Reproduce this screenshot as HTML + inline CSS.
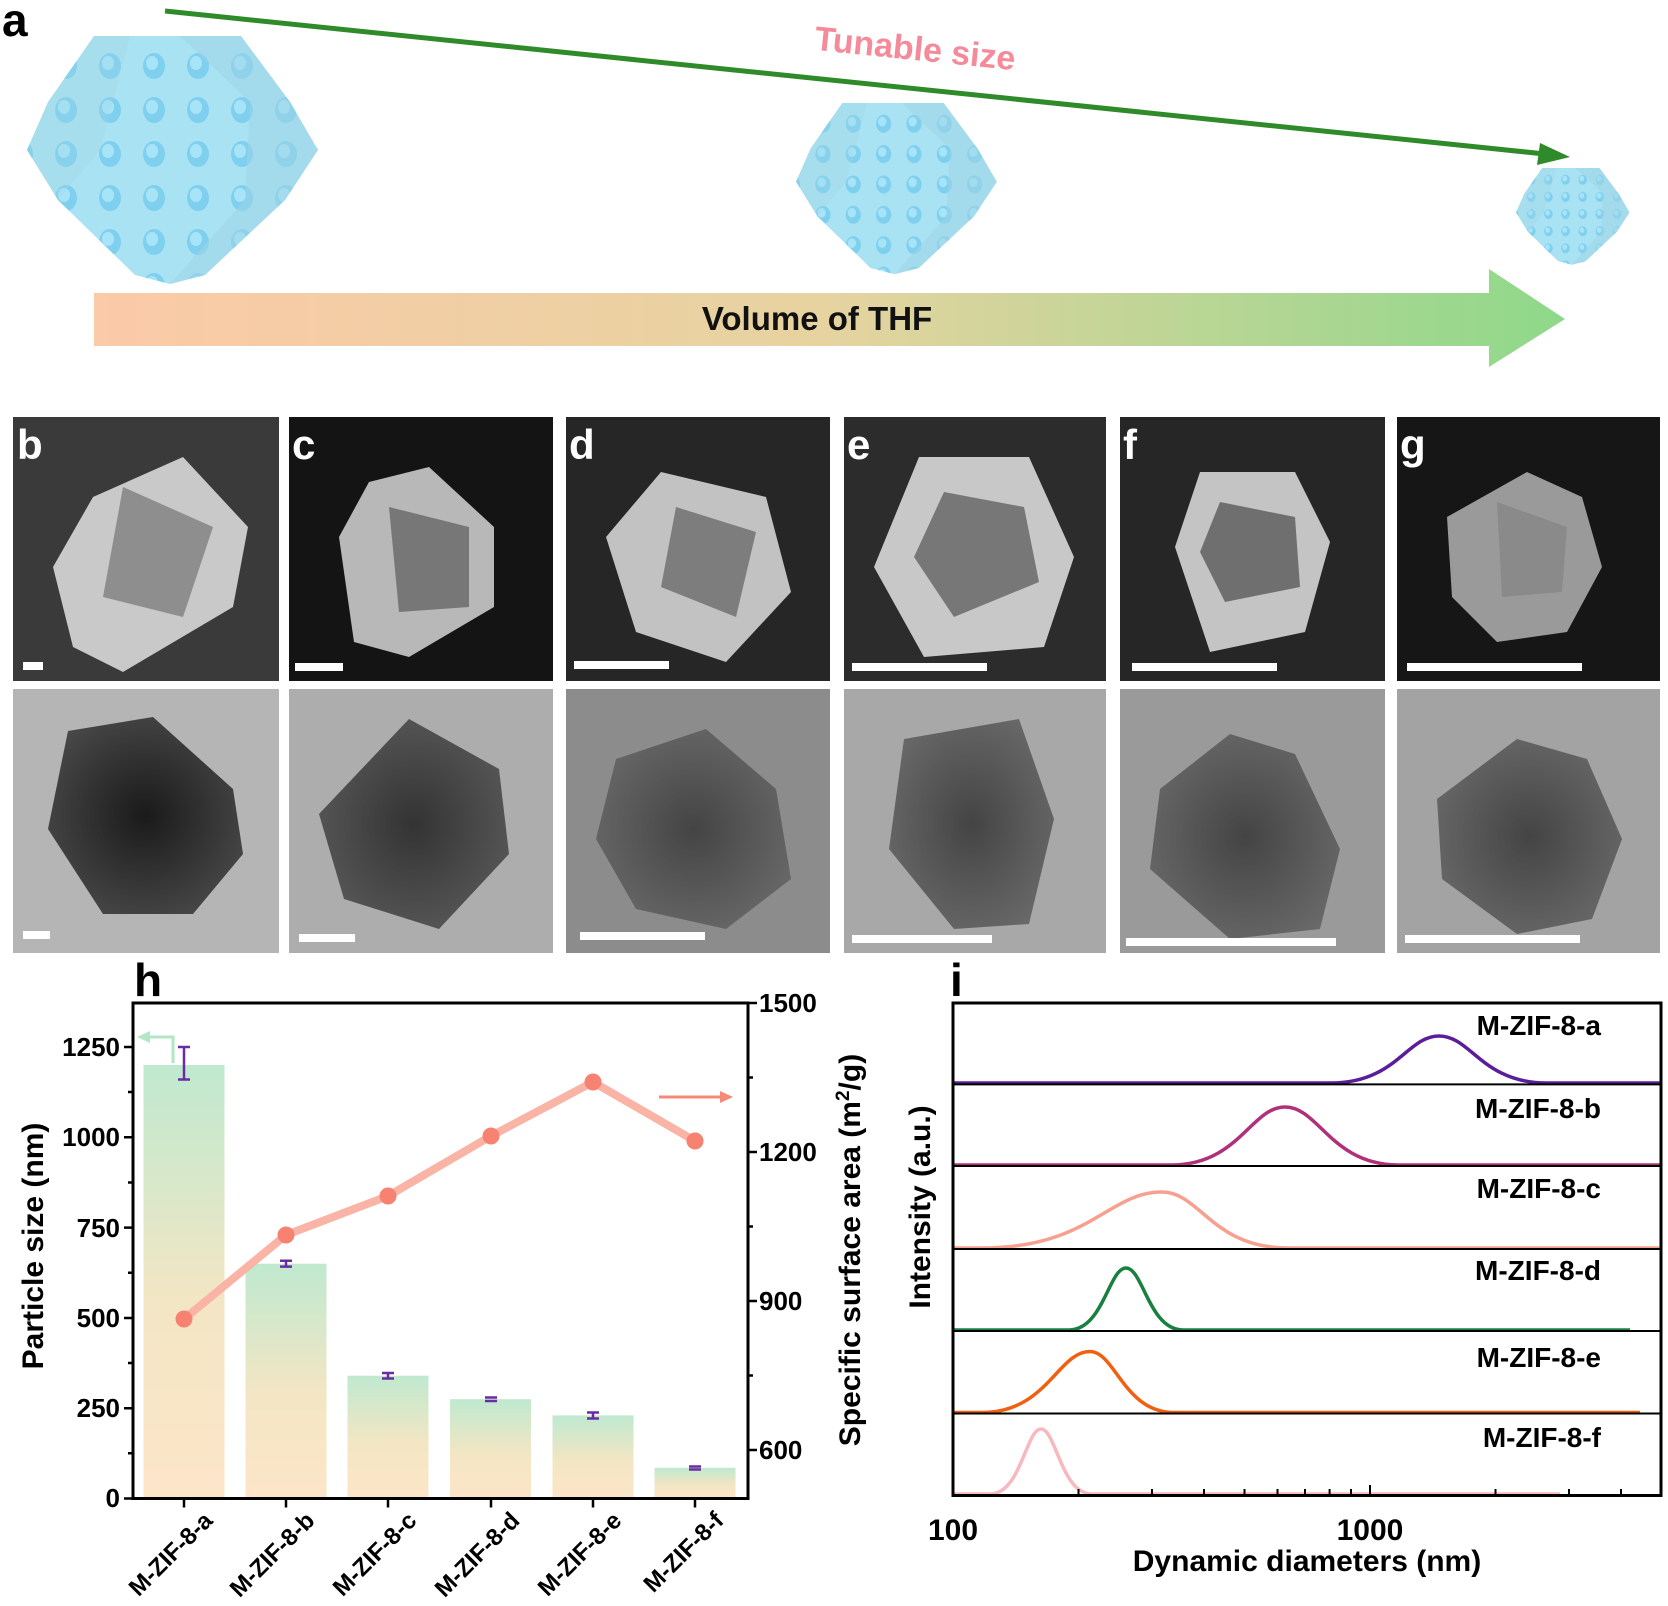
<!DOCTYPE html>
<html><head><meta charset="utf-8"><style>
html,body{margin:0;padding:0;background:#fff;width:1668px;height:1606px;overflow:hidden}
svg{display:block}
text{font-family:"Liberation Sans",Arial,sans-serif;font-weight:bold}
</style></head><body>
<svg width="1668" height="1606" viewBox="0 0 1668 1606" xmlns="http://www.w3.org/2000/svg">
<defs>
<linearGradient id="thf" x1="0" x2="1" y1="0" y2="0">
<stop offset="0" stop-color="#fbcaa8"/><stop offset="0.5" stop-color="#e6d3a0"/><stop offset="1" stop-color="#8ed88a"/></linearGradient>
<linearGradient id="bar" x1="0" x2="0" y1="0" y2="1">
<stop offset="0" stop-color="#bfe9cf"/><stop offset="0.55" stop-color="#f3e6c4"/><stop offset="1" stop-color="#fde5c8"/></linearGradient>
<pattern id="dots" width="44" height="44" patternUnits="userSpaceOnUse">
<ellipse cx="22" cy="22" rx="11" ry="13" fill="#7fd0ef"/><ellipse cx="20" cy="19" rx="6" ry="7" fill="#a8e4f8"/></pattern>
<radialGradient id="temd" cx="0.5" cy="0.5" r="0.6"><stop offset="0" stop-color="#1a1a1a"/><stop offset="1" stop-color="#4a4a4a"/></radialGradient>
<radialGradient id="temm" cx="0.5" cy="0.5" r="0.6"><stop offset="0" stop-color="#333"/><stop offset="1" stop-color="#5a5a5a"/></radialGradient>
<radialGradient id="teml" cx="0.5" cy="0.5" r="0.6"><stop offset="0" stop-color="#444"/><stop offset="1" stop-color="#6a6a6a"/></radialGradient>
<g id="poly">
<polygon points="94,36 241,36 290,102 318,150 285,200 205,275 170,284 135,275 58,200 27,150 48,102" fill="#a9e2f3"/>
<polygon points="94,36 241,36 290,102 318,150 285,200 205,275 170,284 135,275 58,200 27,150 48,102" fill="url(#dots)"/>
<polygon points="180,36 241,36 290,102 318,150 285,200 205,275 170,284 245,200 250,102" fill="#9fd4e6" opacity="0.5"/>
<polygon points="94,36 130,36 100,150 58,200 27,150 48,102" fill="#9fd4e6" opacity="0.3"/>
</g>
</defs>

<!-- panel a -->
<text x="2" y="36" font-size="46">a</text>
<line x1="165" y1="11" x2="1545" y2="154" stroke="#2f8a2a" stroke-width="5"/>
<polygon points="1570,157 1540,143 1537,165" fill="#2f8a2a"/>
<text x="915" y="60" font-size="34" fill="#f58a9a" text-anchor="middle" transform="rotate(5.8 915 50)">Tunable size</text>

<use href="#poly"/>
<use href="#poly" transform="translate(777.4,78.2) scale(0.69)"/>
<use href="#poly" transform="translate(1505.5,154) scale(0.39)"/>

<!-- THF arrow -->
<polygon points="94,293 1489,293 1489,269 1565,319 1489,367 1489,346 94,346" fill="url(#thf)"/>
<text x="817" y="330" font-size="33" text-anchor="middle" fill="#111">Volume of THF</text>

<!-- SEM / TEM panels -->
<g transform="translate(13,417)">
<rect width="266" height="264" fill="#3a3a3a"/>
<polygon points="170,40 235,110 220,190 110,255 60,230 40,150 80,80" fill="#c9c9c9"/>
<polygon points="110,70 200,110 170,200 90,180" fill="#8e8e8e"/>
<rect x="10" y="245" width="20" height="8" fill="#fff"/>
<text x="4" y="42" font-size="42" fill="#fff">b</text>
</g>
<g transform="translate(13,689)">
<rect width="266" height="264" fill="#b5b5b5"/>
<polygon points="55,42 140,28 220,100 230,165 180,225 90,225 35,140" fill="url(#temd)"/>
<rect x="10" y="242" width="27" height="8" fill="#fff"/>
</g>
<g transform="translate(289,417)">
<rect width="264" height="264" fill="#141414"/>
<polygon points="140,50 205,110 205,190 120,240 65,225 50,120 80,65" fill="#b8b8b8"/>
<polygon points="100,90 180,110 180,190 110,195" fill="#777"/>
<rect x="6" y="246" width="48" height="8" fill="#fff"/>
<text x="3" y="42" font-size="42" fill="#fff">c</text>
</g>
<g transform="translate(289,689)">
<rect width="264" height="264" fill="#adadad"/>
<polygon points="120,30 210,80 220,165 150,240 55,210 30,125" fill="url(#temm)"/>
<rect x="10" y="245" width="56" height="8" fill="#fff"/>
</g>
<g transform="translate(566,417)">
<rect width="264" height="264" fill="#262626"/>
<polygon points="95,55 200,80 225,175 160,245 70,215 40,120" fill="#c2c2c2"/>
<polygon points="110,90 190,115 170,200 95,170" fill="#7d7d7d"/>
<rect x="8" y="244" width="95" height="8" fill="#fff"/>
<text x="3" y="42" font-size="42" fill="#fff">d</text>
</g>
<g transform="translate(566,689)">
<rect width="264" height="264" fill="#8c8c8c"/>
<polygon points="140,40 210,100 225,190 160,240 70,220 30,150 50,70" fill="url(#teml)"/>
<rect x="14" y="243" width="125" height="8" fill="#fff"/>
</g>
<g transform="translate(844,417)">
<rect width="262" height="264" fill="#2c2c2c"/>
<polygon points="75,40 185,40 230,140 200,230 80,240 30,150" fill="#c8c8c8"/>
<polygon points="100,75 180,90 195,165 110,200 70,140" fill="#777"/>
<rect x="8" y="246" width="135" height="8" fill="#fff"/>
<text x="3" y="42" font-size="42" fill="#fff">e</text>
</g>
<g transform="translate(844,689)">
<rect width="262" height="264" fill="#a8a8a8"/>
<polygon points="60,50 175,30 210,130 185,235 110,240 45,160" fill="url(#teml)"/>
<rect x="8" y="246" width="140" height="8" fill="#fff"/>
</g>
<g transform="translate(1120,417)">
<rect width="265" height="264" fill="#262626"/>
<polygon points="80,55 175,55 210,125 185,215 90,235 55,130" fill="#c4c4c4"/>
<polygon points="100,85 175,100 180,170 105,185 80,135" fill="#6f6f6f"/>
<rect x="12" y="246" width="145" height="8" fill="#fff"/>
<text x="3" y="42" font-size="42" fill="#fff">f</text>
</g>
<g transform="translate(1120,689)">
<rect width="265" height="264" fill="#9a9a9a"/>
<polygon points="110,45 175,65 220,160 200,240 110,250 30,180 40,100" fill="url(#teml)"/>
<rect x="6" y="249" width="210" height="8" fill="#fff"/>
</g>
<g transform="translate(1397,417)">
<rect width="263" height="264" fill="#161616"/>
<polygon points="130,55 185,80 205,150 170,215 100,225 55,180 50,100" fill="#9a9a9a"/>
<polygon points="100,85 170,110 165,175 105,180" fill="#8a8a8a"/>
<rect x="10" y="246" width="175" height="8" fill="#fff"/>
<text x="3" y="42" font-size="42" fill="#fff">g</text>
</g>
<g transform="translate(1397,689)">
<rect width="263" height="264" fill="#a3a3a3"/>
<polygon points="120,50 190,70 225,150 195,230 120,245 45,190 40,110" fill="url(#teml)"/>
<rect x="8" y="246" width="175" height="8" fill="#fff"/>
</g>

<!-- panel h -->
<text x="134" y="996" font-size="46">h</text>
<g>
<rect x="143.5" y="1065" width="81" height="433.5" fill="url(#bar)"/>
<rect x="245.5" y="1263.7" width="81" height="234.8" fill="url(#bar)"/>
<rect x="347.5" y="1375.7" width="81" height="122.8" fill="url(#bar)"/>
<rect x="450" y="1399.2" width="81" height="99.3" fill="url(#bar)"/>
<rect x="552.5" y="1415.4" width="81" height="83.1" fill="url(#bar)"/>
<rect x="654.5" y="1467.8" width="81" height="30.7" fill="url(#bar)"/>
</g>
<g stroke="#6a2ca0" stroke-width="2.5" fill="none">
<path d="M184,1047V1079.5M178,1047H190M178,1079.5H190"/>
<path d="M280,1260.8H292M280,1266.6H292M286,1260.8V1266.6"/>
<path d="M382,1373H394M382,1378.5H394M388,1373V1378.5"/>
<path d="M485,1397.5H497M485,1401H497"/>
<path d="M587,1412.5H599M587,1418.5H599M593,1412.5V1418.5"/>
<path d="M689,1466.5H701M689,1469.5H701"/>
</g>
<polyline points="184,1319 286,1235 388,1196 491,1136 593,1082 695,1141" fill="none" stroke="#f9b4a6" stroke-width="8" stroke-linejoin="round"/>
<g fill="#f78272">
<circle cx="184" cy="1319" r="8.5"/><circle cx="286" cy="1235" r="8.5"/><circle cx="388" cy="1196" r="8.5"/>
<circle cx="491" cy="1136" r="8.5"/><circle cx="593" cy="1082" r="8.5"/><circle cx="695" cy="1141" r="8.5"/>
</g>
<path d="M173,1063V1037H145" fill="none" stroke="#b2e6c4" stroke-width="3"/>
<polygon points="137,1037 150,1031 150,1043" fill="#b2e6c4"/>
<line x1="659" y1="1097" x2="724" y2="1097" stroke="#f58a78" stroke-width="3"/>
<polygon points="733,1097 720,1091 720,1103" fill="#f58a78"/>
<rect x="133" y="1003" width="615" height="495.5" fill="none" stroke="#000" stroke-width="3"/>
<g stroke="#000" stroke-width="2.5">
<path d="M133,1047h-9M133,1137.3h-9M133,1227.6h-9M133,1318h-9M133,1408.2h-9M133,1498.5h-9"/>
<path d="M133,1092h-5M133,1182.5h-5M133,1272.8h-5M133,1363h-5M133,1453.3h-5"/>
<path d="M748,1003h9M748,1152h9M748,1301h9M748,1450h9"/>
<path d="M748,1077.5h5M748,1226.5h5M748,1375.5h5"/>
<path d="M184,1498.5v9M286,1498.5v9M388,1498.5v9M491,1498.5v9M593,1498.5v9M695,1498.5v9"/>
</g>
<g font-size="26" text-anchor="end">
<text x="120" y="1056">1250</text><text x="120" y="1146">1000</text><text x="120" y="1237">750</text>
<text x="120" y="1327">500</text><text x="120" y="1417">250</text><text x="120" y="1507">0</text>
</g>
<g font-size="26">
<text x="759" y="1012">1500</text><text x="759" y="1161">1200</text><text x="759" y="1310">900</text><text x="759" y="1459">600</text>
</g>
<text transform="translate(43,1246) rotate(-90)" font-size="30" text-anchor="middle">Particle size (nm)</text>
<text transform="translate(860,1250) rotate(-90)" font-size="30" text-anchor="middle">Specific surface area (m<tspan font-size="19" dy="-11">2</tspan><tspan dy="11">/g)</tspan></text>
<g font-size="24" text-anchor="end">
<text transform="translate(214,1522) rotate(-45)">M-ZIF-8-a</text>
<text transform="translate(316,1522) rotate(-45)">M-ZIF-8-b</text>
<text transform="translate(418,1522) rotate(-45)">M-ZIF-8-c</text>
<text transform="translate(521,1522) rotate(-45)">M-ZIF-8-d</text>
<text transform="translate(623,1522) rotate(-45)">M-ZIF-8-e</text>
<text transform="translate(725,1522) rotate(-45)">M-ZIF-8-f</text>
</g>

<!-- panel i -->
<text x="950" y="996" font-size="46">i</text>
<g fill="none" stroke-width="3.5">
<path stroke="#5a1e9a" d="M953,1083H1331C1396,1083 1407,1036 1439,1036C1471,1036 1482,1083 1547,1083H1661"/>
<path stroke="#b0307a" d="M953,1165H1171C1239,1165 1251,1107 1285,1107C1319,1107 1331,1165 1399,1165H1661"/>
<path stroke="#f8a090" d="M953,1248H982C1090,1248 1108,1192 1162,1192C1200,1192 1212,1248 1288,1248H1661"/>
<path stroke="#1a8040" d="M953,1330H1069C1103,1330 1109,1268 1126,1268C1143,1268 1149,1330 1183,1330H1630"/>
<path stroke="#f06010" d="M953,1412.5H982C1047,1412.5 1058,1351.5 1090,1351.5C1115,1351.5 1124,1412.5 1174,1412.5H1640"/>
<path stroke="#f8b8c0" d="M953,1494H990C1021,1494 1026,1429 1041,1429C1056,1429 1061,1494 1092,1494H1560"/>
</g>
<g stroke="#000" stroke-width="2">
<path d="M953,1084.4H1661M953,1166H1661M953,1249H1661M953,1331H1661M953,1413.5H1661"/>
</g>
<rect x="953" y="1003" width="708" height="492.5" fill="none" stroke="#000" stroke-width="3"/>
<g stroke="#000" stroke-width="2">
<path d="M953,1495v-10M1370,1495v-10"/>
<path d="M1078.5,1495v-6M1152,1495v-6M1204,1495v-6M1244.5,1495v-6M1277.5,1495v-6M1305,1495v-6M1329.6,1495v-6M1351,1495v-6M1495.5,1495v-6M1569,1495v-6M1621,1495v-6"/>
</g>
<g font-size="28" text-anchor="end">
<text x="1601" y="1035">M-ZIF-8-a</text>
<text x="1601" y="1118">M-ZIF-8-b</text>
<text x="1601" y="1198">M-ZIF-8-c</text>
<text x="1601" y="1280">M-ZIF-8-d</text>
<text x="1601" y="1367">M-ZIF-8-e</text>
<text x="1601" y="1447">M-ZIF-8-f</text>
</g>
<g font-size="30" text-anchor="middle">
<text x="953" y="1540">100</text><text x="1370" y="1540">1000</text>
<text x="1307" y="1571">Dynamic diameters (nm)</text>
</g>
<text transform="translate(930,1207) rotate(-90)" font-size="30" text-anchor="middle">Intensity (a.u.)</text>
</svg>
</body></html>
